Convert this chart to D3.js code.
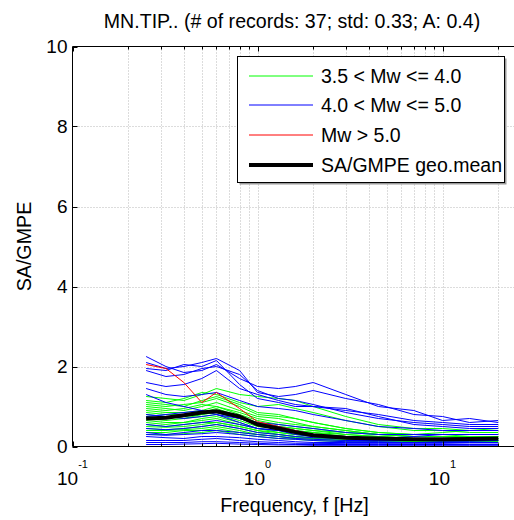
<!DOCTYPE html>
<html>
<head>
<meta charset="utf-8">
<script src="https://cdn.jsdelivr.net/npm/d3@7"></script>
<style>
  html, body { margin: 0; padding: 0; background: #fff; }
  svg { display: block; font-family: "Liberation Sans", Arial, Helvetica, sans-serif; }
</style>
</head>
<body>
<div id="chart"></div>
<script>
// frequencies (Hz) shared by every record
const freqs = [0.25, 0.32, 0.4, 0.5, 0.6, 0.8, 1.0, 1.3, 1.6, 2.0, 3.0, 4.5, 7.0, 10, 14, 20];

// 3.5 < Mw <= 4.0
const greenSeries = [
  [1.25, 1.2, 1.15, 1.3, 1.45, 1.3, 1.25, 1.2, 1.15, 1.0, 0.75, 0.55, 0.45, 0.45, 0.4, 0.4],
  [1.15, 1.1, 1.2, 1.35, 1.3, 1.1, 1.0, 1.05, 0.95, 0.85, 0.65, 0.5, 0.4, 0.4, 0.35, 0.35],
  [1.1, 1.05, 1.0, 1.15, 1.25, 1.05, 0.85, 0.8, 0.7, 0.6, 0.45, 0.35, 0.3, 0.3, 0.3, 0.3],
  [1.05, 1.0, 1.05, 1.1, 1.2, 1.0, 0.8, 0.75, 0.7, 0.6, 0.45, 0.35, 0.3, 0.35, 0.4, 0.45],
  [1.0, 0.95, 0.9, 1.0, 1.1, 0.9, 0.75, 0.7, 0.6, 0.5, 0.4, 0.3, 0.25, 0.25, 0.25, 0.25],
  [0.95, 0.9, 0.95, 1.05, 1.0, 0.85, 0.7, 0.6, 0.55, 0.5, 0.4, 0.3, 0.3, 0.3, 0.25, 0.25],
  [0.9, 0.85, 0.85, 0.9, 1.0, 0.8, 0.65, 0.55, 0.5, 0.45, 0.35, 0.3, 0.25, 0.25, 0.25, 0.25],
  [0.85, 0.8, 0.8, 0.85, 0.95, 0.75, 0.6, 0.5, 0.45, 0.4, 0.3, 0.25, 0.2, 0.2, 0.2, 0.2],
  [0.8, 0.75, 0.7, 0.8, 0.9, 0.7, 0.55, 0.45, 0.4, 0.35, 0.3, 0.25, 0.2, 0.2, 0.2, 0.2],
  [0.75, 0.7, 0.75, 0.8, 0.85, 0.7, 0.6, 0.5, 0.45, 0.4, 0.35, 0.3, 0.25, 0.25, 0.2, 0.2],
  [0.7, 0.65, 0.7, 0.75, 0.8, 0.65, 0.5, 0.45, 0.4, 0.35, 0.25, 0.2, 0.2, 0.2, 0.2, 0.2],
  [0.65, 0.6, 0.6, 0.7, 0.75, 0.6, 0.45, 0.4, 0.35, 0.3, 0.25, 0.2, 0.2, 0.18, 0.18, 0.18],
  [0.6, 0.55, 0.6, 0.65, 0.7, 0.55, 0.45, 0.35, 0.3, 0.28, 0.22, 0.2, 0.18, 0.18, 0.18, 0.18],
  [0.55, 0.5, 0.55, 0.6, 0.6, 0.5, 0.4, 0.35, 0.3, 0.25, 0.2, 0.18, 0.15, 0.15, 0.15, 0.15],
  [0.5, 0.48, 0.5, 0.55, 0.6, 0.5, 0.4, 0.3, 0.25, 0.22, 0.2, 0.15, 0.15, 0.15, 0.15, 0.15],
  [0.45, 0.42, 0.45, 0.5, 0.55, 0.45, 0.35, 0.3, 0.25, 0.2, 0.18, 0.15, 0.15, 0.15, 0.15, 0.15],
  [0.4, 0.4, 0.42, 0.45, 0.5, 0.4, 0.3, 0.25, 0.22, 0.2, 0.15, 0.15, 0.12, 0.12, 0.12, 0.12],
  [0.35, 0.35, 0.4, 0.4, 0.45, 0.35, 0.3, 0.25, 0.2, 0.18, 0.15, 0.12, 0.12, 0.12, 0.12, 0.12],
  [0.3, 0.3, 0.32, 0.35, 0.4, 0.3, 0.25, 0.2, 0.18, 0.15, 0.12, 0.1, 0.1, 0.1, 0.1, 0.1]
];

// 4.0 < Mw <= 5.0
const blueSeries = [
  [2.25, 2.0, 1.85, 1.9, 2.05, 1.7, 1.5, 1.45, 1.5, 1.6, 1.3, 1.0, 0.9, 0.65, 0.7, 0.6],
  [2.1, 1.95, 2.0, 2.1, 2.2, 1.9, 1.35, 1.25, 1.3, 1.4, 1.2, 1.05, 0.8, 0.75, 0.6, 0.65],
  [1.95, 1.9, 2.05, 2.0, 2.15, 1.55, 1.2, 1.1, 1.0, 1.0, 0.9, 0.8, 0.65, 0.6, 0.55, 0.55],
  [1.9, 1.75, 1.8, 1.95, 2.0, 1.8, 1.4, 1.2, 1.15, 1.05, 0.85, 0.7, 0.6, 0.55, 0.5, 0.5],
  [1.6, 1.5, 1.55, 1.7, 1.9, 1.45, 1.3, 1.15, 1.05, 1.0, 0.95, 0.75, 0.55, 0.5, 0.45, 0.45],
  [1.45, 1.3, 1.25, 1.3, 1.35, 1.15, 1.0, 0.95, 0.9, 0.8, 0.65, 0.5, 0.45, 0.4, 0.4, 0.4],
  [1.3, 1.1, 1.0, 0.9, 0.8, 0.7, 0.6, 0.55, 0.5, 0.45, 0.35, 0.3, 0.3, 0.3, 0.3, 0.3],
  [0.8, 0.75, 0.7, 0.75, 0.8, 0.6, 0.45, 0.4, 0.3, 0.25, 0.2, 0.2, 0.25, 0.3, 0.3, 0.3],
  [0.75, 0.8, 0.85, 0.9, 0.85, 0.7, 0.55, 0.5, 0.4, 0.3, 0.2, 0.15, 0.15, 0.15, 0.15, 0.15],
  [0.55, 0.5, 0.55, 0.6, 0.65, 0.55, 0.45, 0.4, 0.35, 0.3, 0.25, 0.2, 0.2, 0.2, 0.2, 0.2],
  [0.45, 0.42, 0.45, 0.5, 0.55, 0.45, 0.35, 0.3, 0.25, 0.22, 0.2, 0.18, 0.18, 0.2, 0.2, 0.2],
  [0.35, 0.3, 0.35, 0.4, 0.4, 0.35, 0.3, 0.25, 0.2, 0.18, 0.15, 0.15, 0.15, 0.15, 0.15, 0.15],
  [0.3, 0.28, 0.3, 0.32, 0.35, 0.3, 0.25, 0.2, 0.18, 0.15, 0.12, 0.12, 0.1, 0.12, 0.12, 0.1],
  [0.25, 0.22, 0.2, 0.25, 0.25, 0.22, 0.18, 0.15, 0.12, 0.1, 0.1, 0.1, 0.1, 0.1, 0.1, 0.1],
  [0.15, 0.15, 0.15, 0.18, 0.2, 0.15, 0.12, 0.1, 0.08, 0.08, 0.07, 0.07, 0.07, 0.07, 0.06, 0.06],
  [0.1, 0.1, 0.1, 0.12, 0.12, 0.1, 0.08, 0.06, 0.05, 0.05, 0.05, 0.05, 0.05, 0.05, 0.05, 0.05],
  [0.05, 0.05, 0.06, 0.07, 0.08, 0.06, 0.05, 0.04, 0.04, 0.03, 0.03, 0.03, 0.03, 0.03, 0.03, 0.03]
];

// Mw > 5.0
const redSeries = [
  [2.05, 1.95, 1.6, 1.1, 1.35, 0.95, 0.62, 0.5, 0.4, 0.3, 0.25, 0.2, 0.2, 0.2, 0.2, 0.2]
];

// SA/GMPE geo.mean
const meanVals = [0.7, 0.72, 0.78, 0.85, 0.88, 0.75, 0.55, 0.45, 0.36, 0.28, 0.22, 0.2, 0.18, 0.18, 0.19, 0.2];

const yTicks = [0, 2, 4, 6, 8, 10];
const xMajorExps = [-1, 0, 1];
const legendLabels = ['3.5 < Mw <= 4.0', '4.0 < Mw <= 5.0', 'Mw > 5.0', 'SA/GMPE geo.mean'];

const width = 514, height = 520;
const axLeft = 72.5, axTop = 46.5, axBottom = 446.5;
const decade = 185;

const svg = d3.select('#chart').append('svg')
  .attr('width', width)
  .attr('height', height);

const x = d3.scaleLog().domain([0.1, 25]).range([axLeft, axLeft + decade * Math.log10(250)]);
const y = d3.scaleLinear().domain([0, 10]).range([axBottom, axTop]);
const axRight = x.range()[1];

// minor/major positions on the log axis
const logTicks = [];
[0.1, 1, 10].forEach(b => {
  for (let k = 1; k <= 9; k++) {
    const v = b * k;
    if (v >= 0.1 && v <= 25) logTicks.push(v);
  }
});

const plot = svg.append('g');
plot.append('clipPath').attr('id', 'clip')
  .append('rect').attr('x', axLeft).attr('y', axTop).attr('width', axRight - axLeft).attr('height', axBottom - axTop);

// grid
const grid = plot.append('g')
  .attr('stroke', '#b8b8b8')
  .attr('stroke-width', 1)
  .attr('stroke-dasharray', '1,2');
grid.selectAll('.vg').data(logTicks.filter(v => v > 0.1))
  .join('line')
  .attr('x1', d => Math.round(x(d)) + 0.5).attr('x2', d => Math.round(x(d)) + 0.5)
  .attr('y1', axTop).attr('y2', axBottom);
grid.selectAll('.hg').data(yTicks.filter(v => v > 0 && v < 10))
  .join('line')
  .attr('x1', axLeft).attr('x2', axRight)
  .attr('y1', d => Math.round(y(d)) + 0.5).attr('y2', d => Math.round(y(d)) + 0.5);

// data lines
const line = d3.line()
  .x((d, i) => x(freqs[i]))
  .y(d => y(d));

const lines = plot.append('g').attr('clip-path', 'url(#clip)').attr('fill', 'none');
function drawGroup(series, color, w) {
  lines.append('g').selectAll('path').data(series)
    .join('path')
    .attr('d', line)
    .attr('stroke', color)
    .attr('stroke-width', w)
    .attr('stroke-linejoin', 'round');
}
drawGroup(greenSeries, '#00ff00', 1);
drawGroup(blueSeries, '#0000ff', 1);
drawGroup(redSeries, '#ff0000', 1);
drawGroup([meanVals], '#000000', 4);

// axes box
const axis = svg.append('g').attr('stroke', '#000').attr('stroke-width', 1).attr('fill', 'none');
axis.append('line').attr('x1', axLeft).attr('x2', axLeft).attr('y1', axTop).attr('y2', axBottom);
axis.append('line').attr('x1', axLeft).attr('x2', axRight).attr('y1', axBottom).attr('y2', axBottom);
axis.append('line').attr('x1', axLeft).attr('x2', axRight).attr('y1', axTop).attr('y2', axTop);

// x ticks (inside, bottom and top)
logTicks.forEach(v => {
  const px = Math.round(x(v)) + 0.5;
  const major = xMajorExps.some(e => Math.abs(Math.pow(10, e) - v) < 1e-9);
  const len = major ? 5 : 3;
  axis.append('line').attr('x1', px).attr('x2', px).attr('y1', axBottom).attr('y2', axBottom - len);
  axis.append('line').attr('x1', px).attr('x2', px).attr('y1', axTop).attr('y2', axTop + len);
});
// y ticks
yTicks.forEach(v => {
  const py = Math.round(y(v)) + 0.5;
  axis.append('line').attr('x1', axLeft).attr('x2', axLeft + 5).attr('y1', py).attr('y2', py);
});

// tick labels
svg.append('g').selectAll('text').data(yTicks)
  .join('text')
  .attr('x', axLeft - 5)
  .attr('y', d => y(d))
  .attr('dy', '0.36em')
  .attr('text-anchor', 'end')
  .attr('font-size', 19)
  .text(d => d);

const xl = svg.append('g').selectAll('text').data(xMajorExps)
  .join('text')
  .attr('x', d => x(Math.pow(10, d)))
  .attr('y', 485)
  .attr('text-anchor', 'middle')
  .attr('font-size', 19);
xl.append('tspan').text('10');
xl.append('tspan').attr('dy', -17).attr('font-size', 11).text(d => d);

// title and labels
svg.append('text')
  .attr('x', 292).attr('y', 28)
  .attr('text-anchor', 'middle')
  .attr('font-size', 19.6)
  .text('MN.TIP.. (# of records: 37; std: 0.33; A: 0.4)');

svg.append('text')
  .attr('x', 294.5).attr('y', 512)
  .attr('text-anchor', 'middle')
  .attr('font-size', 19.7)
  .text('Frequency, f [Hz]');

svg.append('text')
  .attr('transform', 'translate(31,' + (axTop + axBottom) / 2 + ') rotate(-90)')
  .attr('text-anchor', 'middle')
  .attr('font-size', 19.7)
  .text('SA/GMPE');

// legend
const lg = svg.append('g');
const lx = 237.5, ly = 56.5, lw = 267, lh = 126;
lg.append('rect').attr('x', lx + 2).attr('y', ly + 2).attr('width', lw).attr('height', lh).attr('fill', '#9a9a9a');
lg.append('rect').attr('x', lx).attr('y', ly).attr('width', lw).attr('height', lh)
  .attr('fill', '#fff').attr('stroke', '#000').attr('stroke-width', 1);
const legendColors = ['#00ff00', '#0000ff', '#ff0000', '#000000'];
const legendWidths = [1, 1, 1, 4];
const rowY = [76, 105, 135, 165];
legendLabels.forEach((lab, i) => {
  lg.append('line')
    .attr('x1', 249).attr('x2', 313)
    .attr('y1', rowY[i]).attr('y2', rowY[i])
    .attr('stroke', legendColors[i]).attr('stroke-width', legendWidths[i]);
  lg.append('text')
    .attr('x', 321).attr('y', rowY[i])
    .attr('dy', '0.36em')
    .attr('font-size', 19.5)
    .text(lab);
});
</script>
</body>
</html>
